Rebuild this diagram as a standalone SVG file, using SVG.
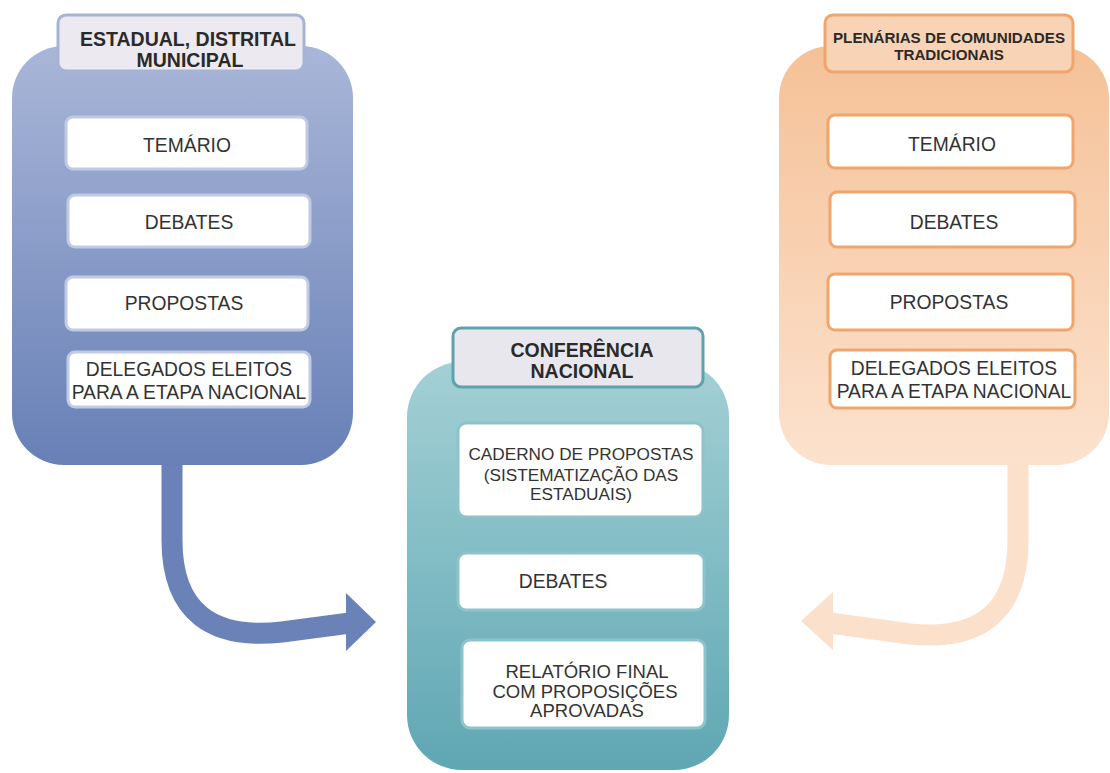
<svg xmlns="http://www.w3.org/2000/svg" width="1110" height="773" viewBox="0 0 1110 773">
<defs>
<linearGradient id="gBlue" x1="0" y1="0" x2="0" y2="1"><stop offset="0" stop-color="#a9b6d8"/><stop offset="1" stop-color="#6880b6"/></linearGradient>
<linearGradient id="gOrange" x1="0" y1="0" x2="0" y2="1"><stop offset="0" stop-color="#f5c197"/><stop offset="1" stop-color="#fce2ce"/></linearGradient>
<linearGradient id="gTeal" x1="0" y1="0" x2="0" y2="1"><stop offset="0" stop-color="#a3d0d5"/><stop offset="1" stop-color="#5fa7b3"/></linearGradient>
<style>
text{font-family:"Liberation Sans",Arial,sans-serif;fill:#333;text-anchor:middle}
.h{font-weight:bold;fill:#2a2a2a;font-size:19.5px}
.t{font-size:19.3px}
.m{font-size:18.5px}
.s{font-size:17.2px}
.box{fill:#fff;stroke-width:3}
.bB{stroke:#c0cae4}
.bO{stroke:#f0a56c}
.bT{stroke:#8ec3ca}
</style>
</defs>
<rect width="1110" height="773" fill="#fff"/>
<g id="connectors">
<path d="M172,455 L172,540 C172,612 212,640 282,632 L350,623" fill="none" stroke="#6a82b8" stroke-width="21"/>
<polygon points="346,593 376,622 346,651" fill="#6a82b8"/>
<path d="M1018,455 L1018,540 C1018,612 980,641 910,634 L830,623" fill="none" stroke="#fbe0cb" stroke-width="21"/>
<polygon points="833,592 801,621 833,650" fill="#fbe0cb"/>
</g>
<g id="estadual">
<rect x="12" y="46" width="341" height="419" rx="52" fill="url(#gBlue)"/>
<rect x="58" y="15" width="246" height="56" rx="8" fill="#ece9f0" stroke="#a6b3d5" stroke-width="3"/>
<text class="h" x="188" y="46">ESTADUAL, DISTRITAL</text>
<text class="h" x="190" y="67">MUNICIPAL</text>
<rect class="box bB" x="66" y="117" width="241" height="52" rx="7"/>
<text class="t" x="187" y="152">TEMÁRIO</text>
<rect class="box bB" x="68" y="195" width="242" height="52" rx="7"/>
<text class="t" x="189" y="229">DEBATES</text>
<rect class="box bB" x="66" y="277" width="242" height="53" rx="7"/>
<text class="t" x="184" y="310">PROPOSTAS</text>
<rect class="box bB" x="68" y="352" width="242" height="55" rx="7"/>
<text class="t" x="189" y="376">DELEGADOS ELEITOS</text>
<text class="t" x="189" y="399">PARA A ETAPA NACIONAL</text>
</g>
<g id="plenarias">
<rect x="779" y="46" width="330" height="419" rx="52" fill="url(#gOrange)"/>
<rect x="825" y="15" width="248" height="57" rx="8" fill="#f9d3b6" stroke="#f0a56c" stroke-width="3"/>
<text class="h" x="949" y="43" style="font-size:15.2px">PLENÁRIAS DE COMUNIDADES</text>
<text class="h" x="949" y="60" style="font-size:15.2px">TRADICIONAIS</text>
<rect class="box bO" x="828" y="115" width="245" height="53" rx="7"/>
<text class="t" x="952" y="151">TEMÁRIO</text>
<rect class="box bO" x="830" y="192" width="245" height="55" rx="7"/>
<text class="t" x="954" y="229">DEBATES</text>
<rect class="box bO" x="828" y="274" width="245" height="56" rx="7"/>
<text class="t" x="949" y="309">PROPOSTAS</text>
<rect class="box bO" x="830" y="350" width="245" height="58" rx="7"/>
<text class="t" x="954" y="375">DELEGADOS ELEITOS</text>
<text class="t" x="954" y="398">PARA A ETAPA NACIONAL</text>
</g>
<g id="conferencia">
<rect x="407" y="362" width="322" height="408" rx="55" fill="url(#gTeal)"/>
<rect x="453" y="328" width="250" height="59" rx="8" fill="#e9e7ee" stroke="#5ea2ad" stroke-width="3"/>
<text class="h" x="582" y="357">CONFERÊNCIA</text>
<text class="h" x="582" y="378">NACIONAL</text>
<rect class="box bT" x="458" y="423" width="245" height="94" rx="8"/>
<text class="s" x="581" y="460">CADERNO DE PROPOSTAS</text>
<text class="s" x="581" y="481">(SISTEMATIZAÇÃO DAS</text>
<text class="s" x="581" y="500">ESTADUAIS)</text>
<rect class="box bT" x="458" y="553" width="246" height="57" rx="8"/>
<text class="t" x="563" y="588">DEBATES</text>
<rect class="box bT" x="462" y="640" width="243" height="88" rx="8"/>
<text class="m" x="587" y="678">RELATÓRIO FINAL</text>
<text class="m" x="585" y="698">COM PROPOSIÇÕES</text>
<text class="m" x="587" y="717">APROVADAS</text>
</g>
</svg>
